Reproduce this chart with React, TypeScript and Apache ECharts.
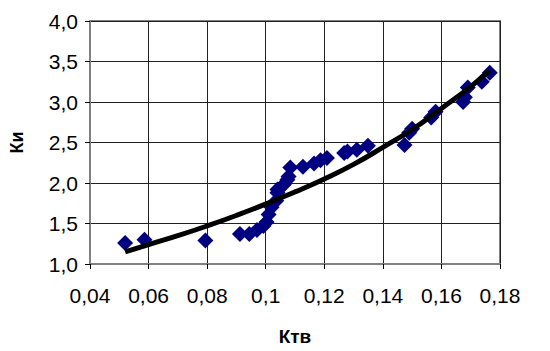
import React, { useEffect, useRef } from "react";
import * as echarts from "echarts";

const ktv = [
  0.052, 0.0586, 0.0794, 0.0912, 0.0944, 0.097, 0.0992, 0.1003, 0.101, 0.102,
  0.1036, 0.104, 0.104, 0.1062, 0.1074, 0.1078, 0.1084, 0.1127, 0.1165, 0.1187,
  0.1209, 0.1268, 0.1279, 0.1311, 0.1349, 0.1474, 0.149, 0.150, 0.1565, 0.158,
  0.1674, 0.168, 0.169, 0.1738, 0.1765,
];
const ki = [
  1.26, 1.30, 1.29, 1.37, 1.37, 1.42, 1.47, 1.52, 1.61, 1.70,
  1.78, 1.88, 1.92, 1.98, 2.04, 2.08, 2.19, 2.20, 2.24, 2.28,
  2.31, 2.37, 2.39, 2.41, 2.46, 2.47, 2.62, 2.67, 2.81, 2.88,
  3.00, 3.06, 3.18, 3.25, 3.36,
];

const trendX = [0.052, 0.06, 0.07, 0.08, 0.09, 0.1, 0.11, 0.12, 0.13, 0.14, 0.15, 0.16, 0.17, 0.1765];
const trendY = [1.15, 1.24, 1.35, 1.47, 1.60, 1.74, 1.89, 2.05, 2.23, 2.44, 2.66, 2.92, 3.19, 3.39];

const xTicks = { min: 0.04, max: 0.18, interval: 0.02 };
const yTicks = { min: 1.0, max: 4.0, interval: 0.5 };

export default function App() {
  const ref = useRef<HTMLDivElement>(null);
  useEffect(() => {
    document.body.style.margin = "0";
    if (!ref.current) return;
    const chart = echarts.init(ref.current, null, { renderer: "svg" });
    const font = "Liberation Sans, Arial, sans-serif";
    chart.setOption({
      animation: false,
      backgroundColor: "#ffffff",
      grid: {
        left: 90,
        right: 50,
        top: 21,
        bottom: 81,
        show: true,
        borderColor: "#808080",
        borderWidth: 2,
        backgroundColor: "transparent",
      },
      xAxis: {
        type: "value",
        min: xTicks.min,
        max: xTicks.max,
        interval: xTicks.interval,
        name: "Ктв",
        nameLocation: "middle",
        nameGap: 63,
        nameTextStyle: { fontFamily: font, fontWeight: "bold", fontSize: 19, color: "#000" },
        axisLine: { show: true, lineStyle: { color: "#808080", width: 2 } },
        axisTick: { show: true, length: 5, lineStyle: { color: "#000", width: 1 } },
        axisLabel: {
          fontFamily: font,
          fontSize: 21,
          color: "#000",
          margin: 21,
          formatter: (v: number) => String(parseFloat(v.toFixed(2))).replace(".", ","),
        },
        splitLine: { show: true, lineStyle: { color: "#202020", width: 1 } },
      },
      yAxis: {
        type: "value",
        min: yTicks.min,
        max: yTicks.max,
        interval: yTicks.interval,
        name: "Ки",
        nameLocation: "middle",
        nameGap: 64,
        nameRotate: 90,
        nameTextStyle: { fontFamily: font, fontWeight: "bold", fontSize: 18, color: "#000" },
        axisLine: { show: true, lineStyle: { color: "#808080", width: 2 } },
        axisTick: { show: true, length: 5, lineStyle: { color: "#000", width: 1 } },
        axisLabel: {
          fontFamily: font,
          fontSize: 21,
          color: "#000",
          margin: 12,
          formatter: (v: number) => v.toFixed(1).replace(".", ","),
        },
        splitLine: { show: true, lineStyle: { color: "#202020", width: 1 } },
      },
      series: [
        {
          type: "scatter",
          symbol: "diamond",
          symbolSize: 16,
          itemStyle: { color: "#000080", opacity: 1 },
          data: ktv.map((x, i) => [x, ki[i]]),
          z: 2,
        },
        {
          type: "line",
          smooth: true,
          showSymbol: false,
          symbol: "none",
          lineStyle: { color: "#000", width: 5 },
          data: trendX.map((x, i) => [x, trendY[i]]),
          z: 3,
        },
      ],
    });
    return () => chart.dispose();
  }, []);
  return <div ref={ref} style={{ width: 550, height: 351 }} />;
}
